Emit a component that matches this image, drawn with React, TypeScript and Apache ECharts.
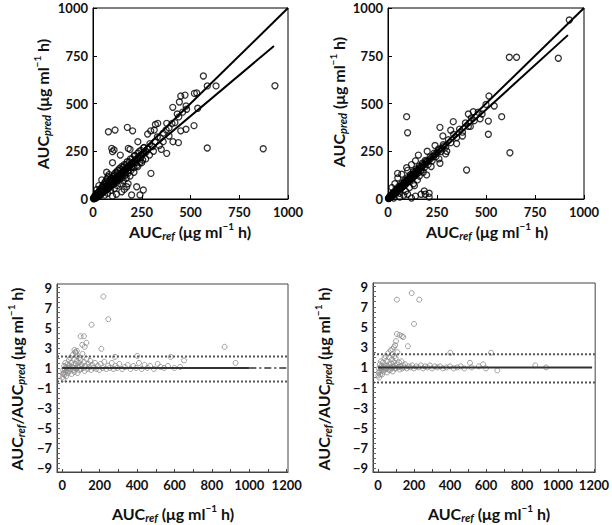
import React, { useEffect, useRef } from "react";
import * as echarts from "echarts";

// ---------- data ----------
const bottomXLabels = [0, 200, 400, 600, 800, 1000, 1200];
const bottomXTicks = [0, 100, 200, 300, 400, 500, 600, 700, 800, 900, 1000, 1100, 1200];
const bottomYLabels = [-9, -7, -5, -3, -1, 1, 3, 5, 7, 9];
const bottomYTicks = [-9, -8.5, -8, -7.5, -7, -6.5, -6, -5.5, -5, -4.5, -4, -3.5, -3, -2.5, -2, -1.5, -1, -0.5, 0, 0.5, 1, 1.5, 2, 2.5, 3, 3.5, 4, 4.5, 5, 5.5, 6, 6.5, 7, 7.5, 8, 8.5, 9];

// top-left: AUCref vs AUCpred
const tlCluster = [
  [2,3],[4,1],[5,6],[6,2],[8,9],[9,4],[10,14],[11,7],[13,10],[14,18],[15,5],[17,13],[18,22],[19,9],[21,16],[22,28],[24,12],[25,20],[27,33],[28,17],[30,24],[31,38],[33,15],[34,29],[36,44],[37,22],[39,33],[40,52],[42,27],[44,38],[45,60],[47,31],[49,44],[50,68],[52,36],[54,48],[55,75],[57,40],[59,53],[60,85],[62,45],[64,58],[66,95],[68,50],[70,64],[72,105],[73,55],[75,70],[77,118],[79,60],[80,76],[82,128],[84,66],[86,82],[88,100],[90,72],[92,88],[95,110],[97,78],[100,94],[102,120],[105,85],[108,100],[110,132],[113,92],[116,108],[118,140],[121,98],[124,115],[127,150],[130,106],[133,122],[136,160],[140,114],[144,132],[148,170],[152,125],[156,142],[160,180],[165,136],[170,155],[175,195],[180,148],[186,168],[192,210],[198,165],[205,185],[212,228],[220,190],[228,210],[236,248],[245,215],[255,235],[262,270],[272,245],[282,262],[292,290],[305,275],[318,300],[330,325],[345,320],[360,345],[375,362],[390,372],[405,395],[420,400],[440,430],[460,455],[480,470],
  [60,20],[75,30],[90,45],[110,55],[125,70],[140,80],[155,95],[170,110],[190,120],[210,140],[100,15],[120,25],[160,50],[180,80],[230,170],[250,190],[270,210],[290,230],[310,250],[340,280],[360,300],[390,330],[410,300],[350,260],
  [30,70],[45,100],[70,140],[100,190],[140,230],[190,260],[230,300],[280,340],[320,390],[20,50]
];
const tlDense = [
  [3,5],[6,4],[9,8],[12,11],[15,13],[18,17],[21,19],[24,22],[27,25],[30,27],[33,31],[36,33],[39,36],[42,39],[45,42],[48,44],[51,47],[54,50],[57,53],[60,56],[63,58],[66,61],[69,64],[72,67],[75,69],[78,72],[81,75],[84,78],[87,81],[90,83],[93,86],[96,89],[99,92],[102,95],[106,98],[110,102],[114,106],[118,110],[122,113],[126,117],[130,121],[134,125],[138,128],[142,132],[146,136],[150,140],[155,144],[160,149],[165,154],[170,158],[175,163],[180,168],[186,173],[192,179],[198,184],[204,190],[210,196],[217,202],[224,208],[231,215],[238,222],[246,229],[254,236],[262,244],[270,252],[280,261],
  [10,18],[20,30],[35,48],[50,62],[65,78],[80,94],[95,108],[110,122],[125,138],[140,152],[155,166],[170,180],[185,195],[200,210],[215,225],[230,240],[245,255],[260,268],
  [15,8],[30,18],[45,30],[60,40],[75,52],[90,64],[105,76],[120,88],[135,100],[150,112],[165,124],[180,136],[195,150],[210,164],[225,176],[240,190],[255,204]
];
const tlOutliers = [
  [933,593],[873,263],[586,267],[566,644],[586,592],[631,592],[450,539],[472,544],[443,508],[477,487],[532,555],[520,553],[409,480],[432,445],[537,475],[518,384],[477,365],[450,357],[378,396],[332,396],[296,357],[314,361],[438,295],[378,239],[297,134],[79,352],[113,361],[176,375],[203,357],[96,265],[108,257],[100,248],[181,265],[224,64],[241,21],[258,47],[173,64],[198,21],[147,38]
];
const tlRegression = [[0, 5], [928, 801]];

// top-right
const trCluster = [
  [2,2],[4,5],[5,3],[7,8],[8,6],[10,11],[11,9],[13,14],[14,11],[16,17],[17,14],[19,21],[20,17],[22,24],[24,20],[26,28],[28,24],[30,32],[32,27],[35,36],[37,31],[40,42],[42,36],[45,47],[48,41],[50,53],[53,46],[56,58],[59,51],[62,65],[65,56],[68,71],[71,62],[74,77],[78,68],[81,84],[85,74],[88,92],[92,80],[96,100],[100,88],[105,108],[110,96],[115,118],[120,106],[125,128],[130,115],[136,140],[142,126],[148,152],[155,138],[162,166],[170,150],[178,182],[186,165],[195,198],[205,180],[215,220],[225,200],[235,240],[245,222],[258,262],[270,248],[282,285],[295,272],[308,310],[320,295],[335,338],[350,322],[365,366],[380,350],[395,398],[410,380],[425,425],[440,410],[460,455],[480,445],[500,495],
  [20,60],[35,80],[50,110],[60,30],[70,130],[80,20],[90,40],[100,150],[110,60],[120,180],[130,80],[140,200],[150,100],[160,120],[180,140],[200,250],[220,170],[240,280],[260,210],[280,330],[300,250],[320,360],[350,290],[380,330],[420,380],[470,420],[30,5],[60,10],[100,25],[140,15],[120,5],[190,25],[210,10]
];
const trDense = [
  [3,4],[6,5],[9,9],[12,12],[15,15],[18,18],[21,20],[24,23],[27,27],[30,29],[33,32],[36,35],[39,38],[42,41],[45,44],[48,46],[51,50],[54,53],[57,55],[60,58],[64,62],[68,66],[72,70],[76,74],[80,78],[84,82],[88,85],[92,90],[96,93],[100,97],[105,102],[110,107],[115,112],[120,117],[126,122],[132,128],[138,134],[144,140],[150,146],[157,153],[164,160],[171,166],[178,173],[186,181],[194,189],[202,197],[211,205],[220,214],[230,224],[240,233],[250,243],[262,255],[274,266],[286,278],
  [10,16],[25,34],[40,50],[55,66],[70,82],[85,98],[100,112],[115,128],[130,144],[145,158],[160,172],[175,188],[190,202],
  [15,9],[30,22],[45,36],[60,50],[75,64],[90,78],[105,92],[120,106],[135,120],[150,134],[165,148]
];
const trOutliers = [
  [925,937],[619,742],[656,742],[869,737],[515,539],[542,487],[580,431],[512,408],[512,339],[622,242],[401,152],[95,431],[100,347],[265,375],[333,405],[410,445],[435,457],[155,230],[265,187],[294,236],[49,134],[95,164],[197,126],[210,30],[185,42],[169,25],[135,70]
];
const trRegression = [[0, 0], [918, 858]];

const identityLine = [[0, 0], [1000, 1000]];

// bottom-left: AUCref vs AUCref/AUCpred
const blPoints = [
  [2,0.1],[4,0.4],[5,0.8],[6,-0.1],[8,0.5],[10,1.2],[12,0.3],[14,0.9],[16,1.5],[18,0.6],[20,1.1],[22,0.2],[25,0.8],[28,1.4],[30,0.5],[33,1.0],[36,1.8],[38,0.7],[40,1.2],[43,2.0],[45,0.9],[48,1.5],[50,0.4],[53,1.1],[56,2.3],[58,0.8],[60,1.3],[63,1.9],[65,0.6],[68,1.0],[70,2.6],[72,1.4],[75,0.9],[78,1.7],[80,2.2],[82,0.5],[85,1.1],[88,1.5],[90,2.0],[92,0.8],[95,1.2],[98,1.8],[100,0.9],[104,1.3],[108,2.4],[112,1.0],[116,1.6],[120,0.7],[125,1.2],[130,1.9],[135,0.9],[140,1.4],[145,1.1],[150,1.7],[155,0.8],[160,1.3],[168,1.0],[175,1.5],[182,0.9],[190,1.2],[198,0.8],[205,1.4],[215,1.0],[225,1.6],[235,0.9],[245,1.2],[255,1.0],[265,1.5],[275,0.9],[285,1.2],[295,1.0],[305,1.4],[320,0.9],[335,1.1],[350,1.3],[365,0.9],[380,1.2],[395,1.0],[410,1.5],[425,0.9],[440,1.3],[455,1.0],[470,1.2],[490,0.9],[510,1.4],[525,1.1],[545,1.0],[565,1.2],[600,1.0],[630,1.1],
  [220,8.1],[246,5.85],[157,5.3],[98,4.15],[116,4.15],[107,3.3],[129,3.5],[120,3.1],[209,2.9],[72,2.5],[78,2.7],[65,2.8],[401,2.2],[580,2.1],[651,1.75],[282,2.1],[868,3.1],[927,1.5]
];
const blUpper = 2.15;
const blLower = -0.35;

// bottom-right
const brPoints = [
  [2,0.2],[4,0.5],[5,0.9],[6,0.0],[8,0.6],[10,1.3],[12,0.3],[14,1.0],[16,1.6],[18,0.7],[20,1.1],[22,0.3],[25,0.9],[28,1.5],[30,0.6],[33,1.0],[36,1.9],[38,0.8],[40,1.2],[43,2.1],[45,0.9],[48,1.6],[50,0.5],[53,1.1],[56,2.4],[58,0.8],[60,1.3],[63,2.0],[65,0.7],[68,1.0],[70,2.7],[72,1.4],[75,0.9],[78,1.8],[80,2.3],[82,0.6],[85,1.1],[88,1.5],[90,2.1],[92,0.9],[95,1.2],[98,1.9],[100,0.9],[104,1.3],[108,2.5],[112,1.0],[116,1.5],[120,0.8],[125,1.1],[130,1.6],[135,0.9],[140,1.2],[145,1.0],[150,1.3],[160,0.9],[170,1.1],[180,1.0],[190,1.2],[200,0.9],[212,1.1],[225,1.0],[238,1.2],[250,0.9],[262,1.1],[275,1.0],[288,1.2],[300,0.9],[315,1.1],[330,1.0],[345,1.1],[360,0.9],[380,1.0],[400,1.1],[420,0.9],[440,1.0],[460,1.1],[480,0.9],[520,1.0],[560,1.1],[600,0.9],
  [187,8.35],[105,7.7],[229,7.7],[200,5.3],[105,4.3],[133,4.1],[140,4.0],[120,4.2],[166,3.1],[95,3.2],[88,3.0],[402,2.45],[628,2.45],[511,1.45],[584,1.3],[874,1.2],[934,1.0],[663,0.7],[100,3.6],[80,2.8]
];
const brUpper = 2.3;
const brLower = -0.5;

const bottomXMin = -28;
const bottomXMax = 1207;
const bottomYMin = -9.35;
const bottomYMax = 9.35;

// ---------- helpers ----------
const FONT = "Lato";
const plain = (v: number) => String(v);
const minus = (v: number) => String(v).replace("-", "\u2212");

const labelStyle = { fontFamily: FONT, fontWeight: "bold", fontSize: 13, color: "#111" };

const topXAxis = (gi: number) => ({
  type: "value",
  gridIndex: gi,
  min: 0,
  max: 1000,
  interval: 250,
  axisLine: { show: true, lineStyle: { color: "#000", width: 1 } },
  axisTick: { show: true, inside: true, length: 4, lineStyle: { color: "#000" } },
  axisLabel: { margin: 6, formatter: plain, ...labelStyle },
  splitLine: { show: false },
});
const topYAxis = (gi: number) => ({
  type: "value",
  gridIndex: gi,
  min: 0,
  max: 1000,
  interval: 250,
  axisLine: { show: true, lineStyle: { color: "#000", width: 1 } },
  axisTick: { show: true, inside: true, length: 4, lineStyle: { color: "#000" } },
  axisLabel: { margin: 5, formatter: plain, ...labelStyle },
  splitLine: { show: false },
});
const bottomXAxis = (gi: number) => ({
  type: "value",
  gridIndex: gi,
  min: bottomXMin,
  max: bottomXMax,
  axisLine: { show: true, onZero: false, lineStyle: { color: "#444", width: 1 } },
  axisTick: { show: true, inside: true, length: 3, customValues: bottomXTicks, lineStyle: { color: "#444" } },
  axisLabel: { margin: 6, customValues: bottomXLabels, formatter: plain, ...labelStyle },
  splitLine: { show: false },
});
const bottomYAxis = (gi: number) => ({
  type: "value",
  gridIndex: gi,
  min: bottomYMin,
  max: bottomYMax,
  axisLine: { show: true, onZero: false, lineStyle: { color: "#444", width: 1 } },
  axisTick: { show: true, inside: true, length: 3, customValues: bottomYTicks, lineStyle: { color: "#666" } },
  axisLabel: { margin: 5, customValues: bottomYLabels, formatter: minus, ...labelStyle },
  splitLine: { show: false },
});

const topScatter = (i: number, data: number[][]) => ({
  type: "scatter",
  xAxisIndex: i,
  yAxisIndex: i,
  data,
  symbol: "circle",
  symbolSize: 6,
  itemStyle: { color: "rgba(0,0,0,0)", borderColor: "#000", borderWidth: 1.3 },
});
const bottomScatter = (i: number, data: number[][]) => ({
  type: "scatter",
  xAxisIndex: i,
  yAxisIndex: i,
  data,
  symbol: "circle",
  symbolSize: 5,
  itemStyle: { color: "rgba(0,0,0,0)", borderColor: "#8a8a8a", borderWidth: 1 },
});
const lineSeries = (i: number, data: number[][], style: any) => ({
  type: "line",
  xAxisIndex: i,
  yAxisIndex: i,
  data,
  symbol: "none",
  silent: true,
  lineStyle: style,
});

const richStyles = {
  a: { fontFamily: FONT, fontWeight: "bold", fontSize: 16, lineHeight: 20, verticalAlign: "middle", fill: "#111" },
  s: { fontFamily: FONT, fontWeight: "bold", fontStyle: "italic", fontSize: 11, lineHeight: 11, verticalAlign: "bottom", fill: "#111" },
  p: { fontFamily: FONT, fontWeight: "bold", fontSize: 10, lineHeight: 10, verticalAlign: "top", fill: "#111" },
};
const xTitle = "{a|AUC}{s|ref}{a| (\u03bcg ml}{p|\u22121}{a| h)}";
const yTitleTop = "{a|AUC}{s|pred}{a| (\u03bcg ml}{p|\u22121}{a| h)}";
const yTitleBottom = "{a|AUC}{s|ref}{a|/AUC}{s|pred}{a| (\u03bcg ml}{p|\u22121}{a| h)}";

const titleText = (x: number, y: number, text: string, rotate: boolean) => ({
  type: "text",
  x,
  y,
  rotation: rotate ? Math.PI / 2 : 0,
  silent: true,
  style: { text, rich: richStyles, align: "center", verticalAlign: "middle" },
});

export default function App() {
  const ref = useRef<HTMLDivElement>(null);
  useEffect(() => {
    if (!ref.current) return;
    const chart = echarts.init(ref.current, null, { renderer: "svg" });
    const gridStyle = (left: number, top: number, width: number, height: number, color: string) => ({
      left, top, width, height, show: true, borderColor: color, borderWidth: 1, backgroundColor: "transparent",
    });
    chart.setOption({
      animation: false,
      backgroundColor: "#fff",
      grid: [
        gridStyle(93, 8, 195, 191, "#000"),
        gridStyle(388, 8, 196, 191, "#000"),
        gridStyle(57, 284, 231, 188, "#444"),
        gridStyle(373, 283, 226, 189, "#444"),
      ],
      xAxis: [topXAxis(0), topXAxis(1), bottomXAxis(2), bottomXAxis(3)],
      yAxis: [topYAxis(0), topYAxis(1), bottomYAxis(2), bottomYAxis(3)],
      series: [
        topScatter(0, tlCluster),
        topScatter(0, tlDense),
        topScatter(0, tlOutliers),
        lineSeries(0, identityLine, { color: "#000", width: 2 }),
        lineSeries(0, tlRegression, { color: "#000", width: 2 }),
        topScatter(1, trCluster),
        topScatter(1, trDense),
        topScatter(1, trOutliers),
        lineSeries(1, identityLine, { color: "#000", width: 2 }),
        lineSeries(1, trRegression, { color: "#000", width: 2 }),
        bottomScatter(2, blPoints),
        lineSeries(2, [[bottomXMin, blUpper], [bottomXMax, blUpper]], { color: "#555", width: 2, type: [2, 2] }),
        lineSeries(2, [[bottomXMin, blLower], [bottomXMax, blLower]], { color: "#555", width: 2, type: [2, 2] }),
        lineSeries(2, [[0, 1], [1000, 1]], { color: "#333", width: 2 }),
        lineSeries(2, [[1000, 1], [1200, 1]], { color: "#333", width: 1.5, type: [7, 3, 2, 3] }),
        bottomScatter(3, brPoints),
        lineSeries(3, [[bottomXMin, brUpper], [bottomXMax, brUpper]], { color: "#555", width: 2, type: [2, 2] }),
        lineSeries(3, [[bottomXMin, brLower], [bottomXMax, brLower]], { color: "#555", width: 2, type: [2, 2] }),
        lineSeries(3, [[0, 1], [1190, 1]], { color: "#333", width: 2 }),
      ],
      graphic: [
        titleText(190, 231, xTitle, false),
        titleText(487, 231, xTitle, false),
        titleText(173, 513, xTitle, false),
        titleText(489, 513, xTitle, false),
        titleText(42, 104, yTitleTop, true),
        titleText(338, 102, yTitleTop, true),
        titleText(16, 379, yTitleBottom, true),
        titleText(323, 379, yTitleBottom, true),
      ],
    });
    return () => chart.dispose();
  }, []);
  return (
    <div
      ref={ref}
      style={{ position: "absolute", left: 0, top: 0, width: 612, height: 525 }}
    />
  );
}
